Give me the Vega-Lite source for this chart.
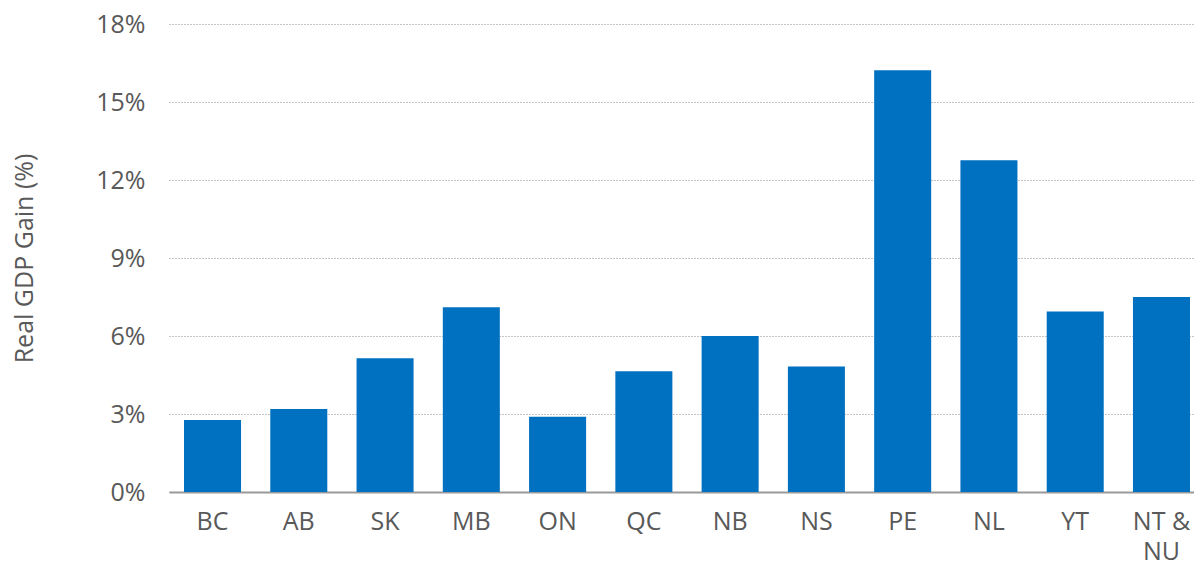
{
  "$schema": "https://vega.github.io/schema/vega-lite/v6.json",
  "width": 1036,
  "height": 468,
  "autosize": {"type": "none"},
  "padding": {"left": 169, "top": 24, "right": 0, "bottom": 72},
  "background": "white",
  "config": {
    "view": {"stroke": null},
    "font": "Open Sans",
    "axis": {"labelFont": "Open Sans", "titleFont": "Open Sans", "labelColor": "#595959", "titleColor": "#595959"}
  },
  "data": {
    "values": [
      {"region": "BC", "gain": 2.77},
      {"region": "AB", "gain": 3.19},
      {"region": "SK", "gain": 5.14},
      {"region": "MB", "gain": 7.11},
      {"region": "ON", "gain": 2.89},
      {"region": "QC", "gain": 4.64},
      {"region": "NB", "gain": 6.0},
      {"region": "NS", "gain": 4.83},
      {"region": "PE", "gain": 16.22},
      {"region": "NL", "gain": 12.76},
      {"region": "YT", "gain": 6.94},
      {"region": "NT & NU", "gain": 7.5}
    ]
  },
  "mark": {"type": "bar", "color": "#0070C0"},
  "encoding": {
    "x": {
      "field": "region",
      "type": "nominal",
      "sort": null,
      "scale": {"paddingInner": 0.339, "paddingOuter": 0.174},
      "axis": {
        "title": null,
        "labelAngle": 0,
        "labelFontSize": 25,
        "labelPadding": 17,
        "ticks": false,
        "domainColor": "#999999",
        "domainWidth": 2,
        "labelExpr": "datum.label == 'NT & NU' ? ['NT &', 'NU'] : datum.label",
        "labelLineHeight": 30
      }
    },
    "y": {
      "field": "gain",
      "type": "quantitative",
      "scale": {"domain": [0, 18], "nice": false},
      "axis": {
        "title": "Real GDP Gain (%)",
        "titleFontSize": 25,
        "titleFontWeight": "normal",
        "titlePadding": 58,
        "values": [0, 3, 6, 9, 12, 15, 18],
        "labelExpr": "datum.value + '%'",
        "labelFontSize": 25,
        "labelPadding": 24,
        "ticks": false,
        "domain": false,
        "gridColor": "#888888",
        "gridDash": [1, 2],
        "gridWidth": 1
      }
    }
  }
}
